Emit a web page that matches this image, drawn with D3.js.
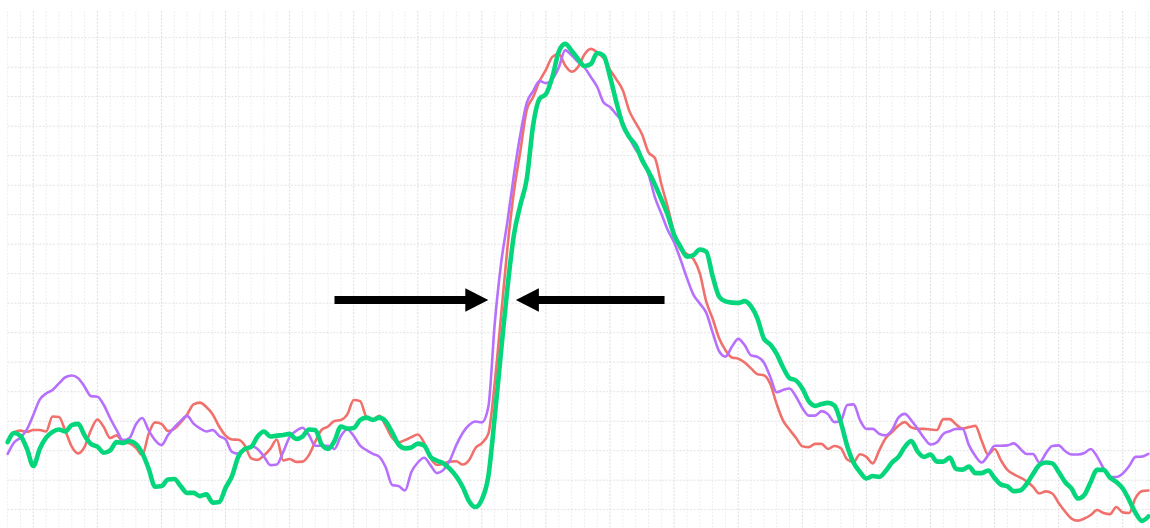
<!DOCTYPE html>
<html>
<head>
<meta charset="utf-8">
<script src="https://cdn.jsdelivr.net/npm/d3@7"></script>
<style>
  html, body { margin: 0; padding: 0; background: #ffffff; }
  svg { display: block; }
</style>
</head>
<body>
<svg id="chart" width="1150" height="528"></svg>
<script>
// ---- data ----
// sample index -> time; first sample is at time -4, one step per sample
const timeStart = -4;

const redSeries = [23.6,26.3,26.8,26.4,27.0,27.0,26.5,31.6,31.4,26.7,
21.4,19.1,21.3,27.0,30.6,28.0,24.3,25.2,22.9,22.5,
21.0,18.5,25.7,29.6,29.1,26.7,27.4,29.6,32.3,35.7,
36.3,34.8,32.3,28.2,25.1,23.8,23.7,21.8,17.4,16.9,
18.4,20.7,23.8,16.7,17.2,16.2,16.3,18.5,23.1,27.1,
28.2,30.1,30.4,32.3,37.2,36.8,31.4,30.7,31.8,28.4,
24.4,22.8,23.6,24.6,25.5,22.6,17.5,15.2,15.6,16.3,
16.4,15.3,16.8,20.9,22.6,25.7,42.9,66.0,89.1,107.9,
121.6,135.5,139.9,145.3,149.2,153.5,154.5,150.6,148.5,150.1,
154.3,156.2,155.0,153.0,149.1,145.8,142.1,135.2,131.1,127.2,
121.1,119.2,110.4,102.6,93.8,88.2,86.7,85.0,80.2,70.6,
64.8,58.2,54.1,51.6,51.2,49.9,47.9,45.9,45.6,42.6,
35.8,30.2,27.2,24.4,21.5,21.2,22.3,22.3,20.6,21.6,
20.9,17.0,16.2,18.8,17.9,15.7,20.1,24.2,26.3,28.5,
29.7,27.9,27.4,27.4,27.2,27.0,30.7,30.7,28.9,27.5,
28.0,28.4,23.3,18.7,20.6,16.7,13.5,12.0,10.9,9.6,
7.8,5.5,6.2,5.5,2.3,-0.6,-3.0,-3.7,-3.0,-1.8,
-0.1,-1.1,-1.5,0.9,-0.9,-1.1,4.0,6.3,6.5];

const purpleSeries = [18.9,22.8,24.4,27.2,32.1,37.3,39.4,40.6,42.8,44.9,
45.5,44.6,41.7,38.5,38.3,35.5,31.0,27.0,23.6,24.3,
28.9,31.1,26.9,23.6,21.9,25.2,27.9,30.1,31.8,29.2,
27.6,26.5,27.0,25.0,23.8,19.6,19.0,20.6,21.5,20.6,
18.0,15.1,15.3,19.6,24.6,26.7,27.8,25.3,21.7,21.7,
21.7,20.6,25.0,27.2,25.0,21.7,20.2,18.9,17.9,14.3,
8.4,8.0,6.5,12.8,16.0,17.6,15.0,12.4,13.5,16.7,
21.9,26.0,28.7,29.9,29.6,34.8,63.0,83.6,97.9,113.6,
127.2,137.9,141.9,145.3,144.6,146.0,149.9,155.8,154.0,151.8,
149.9,146.7,143.3,138.0,136.5,133.9,131.2,126.1,122.1,119.2,
113.8,105.9,100.4,94.8,90.6,84.8,78.5,72.9,69.9,66.8,
60.1,53.8,51.9,55.2,57.9,55.8,52.3,51.8,49.9,45.0,
39.8,40.6,41.1,38.4,34.5,31.9,31.9,33.4,32.4,29.7,
30.1,35.5,35.7,30.4,27.4,27.4,25.7,25.2,27.0,31.2,
32.5,30.3,27.4,24.3,22.1,22.8,25.7,26.6,27.4,27.4,
21.9,18.2,16.0,18.5,21.7,21.7,21.8,22.5,20.7,18.9,
18.9,16.0,19.1,21.6,21.8,19.9,18.7,18.7,19.2,20.6,
18.0,14.0,11.1,11.1,12.3,14.8,17.9,18.0,18.9];

const greenSeries = [22.9,26.0,25.0,20.7,14.8,20.6,24.4,26.4,27.2,26.5,
28.7,29.1,25.2,22.3,21.4,19.3,20.1,22.9,22.6,23.3,
22.3,19.2,13.9,7.8,8.0,10.2,10.4,8.0,5.7,5.7,
4.6,5.2,2.4,2.6,7.4,11.4,18.0,20.6,21.3,24.8,
26.5,24.8,25.1,25.3,25.7,24.0,24.8,27.2,27.0,22.1,
20.6,23.3,28.2,27.5,27.7,30.4,31.2,30.4,31.2,29.9,
26.2,22.1,20.8,21.1,22.4,21.7,17.9,16.6,15.7,13.8,
11.3,7.7,2.9,0.9,3.5,11.3,31.4,53.9,75.5,93.2,
103.3,112.1,130.4,139.3,140.9,146.7,155.3,157.9,155.6,152.8,
150.4,151.1,154.8,153.9,146.7,138.0,130.4,126.3,123.5,118.5,
114.6,110.2,105.2,99.9,93.1,89.1,85.8,86.3,88.2,87.5,
79.2,72.3,70.6,70.2,70.1,70.7,68.9,64.8,58.0,56.0,
52.8,48.2,44.6,43.8,41.1,36.8,35.2,35.8,36.2,35.3,
29.7,21.6,15.9,12.8,10.6,11.4,11.1,13.1,16.0,17.9,
21.3,23.3,19.7,17.9,18.7,16.3,16.3,17.7,13.8,13.6,
14.6,12.4,12.4,13.3,10.7,8.5,7.9,6.3,6.5,8.7,
12.1,15.2,16.0,15.7,12.8,9.4,7.2,3.8,5.0,9.4,
13.5,13.5,10.9,9.4,7.2,3.3,-1.1,-3.8,-2.3];

// grid tick values
const xMinorTicks = d3.range(-4, 176, 2);
const xMajorStep = 10;
const yTicks = [0,10,20,30,40,50,60,70,80,90,100,110,120,130,140,150,160];

// annotation arrows (data units): [tailTime, tipTime, level]
const arrowLeft  = [47, 71.0, 71.1];
const arrowRight = [98.5, 75.3, 71.1];

// ---- layout ----
const W = 1150, H = 528;
const svg = d3.select("#chart");

const x = d3.scaleLinear().domain([-4, 174]).range([7.67, 7.67 + 178 * 6.4085]);
const y = d3.scaleLinear().domain([0, 160]).range([509.7, 37.7]);
const plotTop = y(169.05);
const plotLeft = x(-4);

// ---- grid ----
const grid = svg.append("g");
grid.selectAll("line.vx")
  .data(xMinorTicks)
  .join("line")
  .attr("x1", d => x(d)).attr("x2", d => x(d))
  .attr("y1", plotTop).attr("y2", H)
  .attr("stroke", d => (d % xMajorStep === 0) ? "#dedede" : "#eeeeee")
  .attr("stroke-width", 1)
  .attr("stroke-dasharray", "2,1.5");

grid.selectAll("line.hy")
  .data(yTicks)
  .join("line")
  .attr("x1", plotLeft).attr("x2", W)
  .attr("y1", d => y(d)).attr("y2", d => y(d))
  .attr("stroke", "#e2e2e2")
  .attr("stroke-width", 1)
  .attr("stroke-dasharray", "2,1.5");

// ---- lines ----
const line = d3.line()
  .x((d, i) => x(timeStart + i))
  .y(d => y(d))
  .curve(d3.curveMonotoneX);

const series = [
  { values: redSeries,    color: "#f0716c", width: 2.6 },
  { values: purpleSeries, color: "#b770fb", width: 2.6 },
  { values: greenSeries,  color: "#05d67c", width: 4.6 }
];

svg.append("g").selectAll("path")
  .data(series)
  .join("path")
  .attr("d", d => line(d.values))
  .attr("fill", "none")
  .attr("stroke", d => d.color)
  .attr("stroke-width", d => d.width)
  .attr("stroke-linejoin", "round")
  .attr("stroke-linecap", "round");

// ---- arrows ----
function drawArrow(spec) {
  const [t0, t1, lv] = spec;
  const xTail = x(t0), xTip = x(t1), yy = y(lv);
  const dir = xTip > xTail ? 1 : -1;
  const headLen = 23, headHalf = 11.7;
  const xBase = xTip - dir * headLen;
  svg.append("line")
    .attr("x1", xTail).attr("x2", xBase + dir * 1)
    .attr("y1", yy).attr("y2", yy)
    .attr("stroke", "#000").attr("stroke-width", 8);
  svg.append("path")
    .attr("d", `M${xTip},${yy} L${xBase},${yy - headHalf} L${xBase},${yy + headHalf} Z`)
    .attr("fill", "#000");
}
drawArrow(arrowLeft);
drawArrow(arrowRight);
</script>
</body>
</html>
